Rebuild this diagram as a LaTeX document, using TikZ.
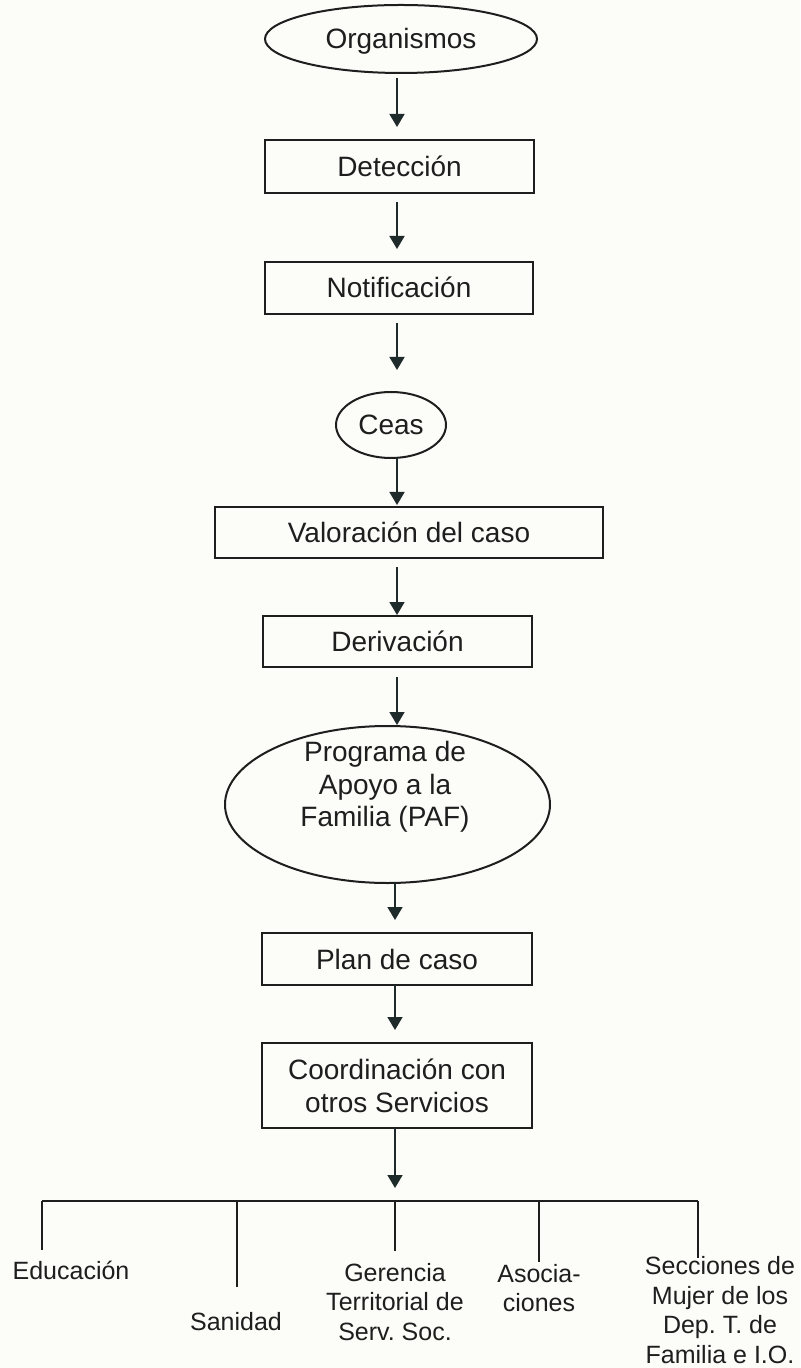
\documentclass[tikz,border=0pt]{standalone}
\usepackage{fontspec}
\setmainfont{Liberation Sans}
\usetikzlibrary{arrows.meta,shapes.geometric}
\definecolor{ink}{HTML}{1E1E1E}
\definecolor{arrowink}{HTML}{1F2A2A}
\definecolor{paper}{HTML}{FCFCF9}
\frenchspacing
\begin{document}
\begin{tikzpicture}[x=0.5pt,y=-0.5pt,
  every node/.style={inner sep=0pt, outer sep=0pt, text=ink},
  flowbox/.style={draw=ink, line width=1pt, rectangle, font=\fontsize{14}{16.5}\selectfont, text height=11.5pt, text depth=1.5pt},
  multibox/.style={draw=ink, line width=1pt, rectangle, font=\fontsize{14}{16.5}\selectfont, align=center},
  flowell/.style={draw=ink, line width=1pt, ellipse, font=\fontsize{14}{16.5}\selectfont, text height=11.5pt, text depth=1.5pt},
  ellbody/.style={draw=ink, line width=1pt, ellipse},
  bodytext/.style={font=\fontsize{14}{16.25}\selectfont, align=center},
  lbl/.style={font=\fontsize{12.5}{14.8}\selectfont, align=center},
  arr/.style={draw=arrowink, line width=0.8pt, -{Triangle[length=6.5pt,width=7.5pt]}},
  barline/.style={draw=ink, line width=1pt}
]
\fill[paper] (0,0) rectangle (800,1368);
\useasboundingbox (0,0) rectangle (800,1368);

% main chain
\node[flowell, minimum width=136pt, minimum height=34pt] (org) at (401,39) {Organismos};
\node[flowbox, minimum width=134.5pt, minimum height=26.5pt] (det) at (399.5,166.5) {Detección};
\node[flowbox, minimum width=134pt, minimum height=26pt] (noti) at (399,288) {Notificación};
\node[flowell, minimum width=55pt, minimum height=33pt] (ceas) at (391,425) {Ceas};
\node[flowbox, minimum width=194pt, minimum height=25.5pt] (val) at (409,532.5) {Valoración del caso};
\node[flowbox, minimum width=134.5pt, minimum height=25.5pt] (der) at (397.5,641.5) {Derivación};
\node[ellbody, minimum width=162.5pt, minimum height=78.5pt] (paf) at (387.5,804.5) {};
\node[bodytext] (paftext) at (385,787) {Programa de\\Apoyo a la\\Familia (PAF)};
\node[flowbox, minimum width=135pt, minimum height=26pt] (plan) at (397,959) {Plan de caso};
\node[multibox, minimum width=135pt, minimum height=42.5pt] (coord) at (397,1085.5) {Coordinación con\\otros Servicios};

% arrow columns
\coordinate (ax) at (397,0);
\coordinate (bx) at (395,0);

\draw[arr, shorten <=2.5pt, shorten >=6.5pt] (org.south -| ax) -- (det.north -| ax);
\draw[arr, shorten <=4.5pt, shorten >=6.5pt] (det.south -| ax) -- (noti.north -| ax);
\draw[arr, shorten <=4.5pt, shorten >=11pt] (noti.south -| ax) -- (ceas.north -| ax);
\draw[arr, shorten >=1pt] (ceas.south -| ax) -- (val.north -| ax);
\draw[arr, shorten <=4.5pt, shorten >=0.5pt] (val.south -| ax) -- (der.north -| ax);
\draw[arr, shorten <=5pt, shorten >=0.5pt] (der.south -| ax) -- (paf.north -| ax);
\draw[arr, shorten >=6.5pt] (paf.south -| bx) -- (plan.north -| bx);
\draw[arr, shorten >=6.5pt] (plan.south -| bx) -- (coord.north -| bx);

% distribution bar
\coordinate (b1) at (42,1201);
\coordinate (b2) at (237,1201);
\coordinate (b3) at (395,1201);
\coordinate (b4) at (539,1201);
\coordinate (b5) at (698,1201);
\coordinate (e1) at (42,1250);
\coordinate (e2) at (237,1287);
\coordinate (e3) at (395,1251);
\coordinate (e4) at (539,1262);
\coordinate (e5) at (698,1258);

\draw[arr, shorten >=6.5pt] (coord.south -| bx) -- (b3);
\draw[barline] (b1) -- (b5);
\draw[barline] (b1) -- (e1);
\draw[barline] (b2) -- (e2);
\draw[barline] (b3) -- (e3);
\draw[barline] (b4) -- (e4);
\draw[barline] (b5) -- (e5);

% labels
\node[lbl, anchor=base] (edu) at (71,1279) {Educación};
\node[lbl, anchor=base] (san) at (236,1330) {Sanidad};
\node[lbl] (ger) at (395,1302) {Gerencia\\Territorial de\\Serv. Soc.};
\node[lbl] (aso) at (539,1288) {Asocia-\\ciones};
\node[lbl] (sec) at (720,1310) {Secciones de\\Mujer de los\\Dep. T. de\\Familia e I.O.};
\end{tikzpicture}
\end{document}
